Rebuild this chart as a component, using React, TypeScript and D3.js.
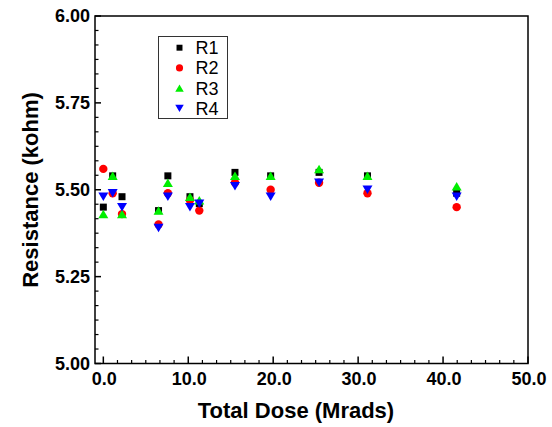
import React from "react";
import * as d3 from "d3";

const doses = [0, 1.1, 2.2, 6.5, 7.6, 10.2, 11.3, 15.5, 19.7, 25.4, 31.1, 41.6];
const r1 = [5.45, 5.54, 5.48, 5.44, 5.54, 5.48, 5.46, 5.55, 5.54, 5.55, 5.54, 5.49];
const r2 = [5.56, 5.49, 5.43, 5.40, 5.49, 5.47, 5.44, 5.52, 5.50, 5.52, 5.49, 5.45];
const r3 = [5.43, 5.54, 5.43, 5.44, 5.52, 5.48, 5.47, 5.54, 5.54, 5.56, 5.54, 5.51];
const r4 = [5.48, 5.49, 5.45, 5.39, 5.48, 5.45, 5.46, 5.51, 5.48, 5.52, 5.50, 5.48];
const seriesNames = ["R1", "R2", "R3", "R4"];
const xTickLabels = ["0.0", "10.0", "20.0", "30.0", "40.0", "50.0"];
const yTickLabels = ["5.00", "5.25", "5.50", "5.75", "6.00"];

const W = 552, H = 427;
const L = 95, R = 528, T = 16, B = 363.5;
const FONT = "'Liberation Sans', Arial, Helvetica, sans-serif";

const series = [
  { name: seriesNames[0], values: r1, color: "#000000", shape: "square" },
  { name: seriesNames[1], values: r2, color: "#ff0000", shape: "circle" },
  { name: seriesNames[2], values: r3, color: "#00ee00", shape: "up" },
  { name: seriesNames[3], values: r4, color: "#0000ff", shape: "down" },
];

function Marker({ shape, x, y, color, s = 1 }: any) {
  if (shape === "square") {
    const a = 7 * s;
    return <rect x={x - a / 2} y={y - a / 2} width={a} height={a} fill={color} />;
  }
  if (shape === "circle") return <circle cx={x} cy={y} r={4.2 * s} fill={color} />;
  const w = 5 * s, h = 8.5 * s;
  if (shape === "up") {
    const p = `M${x - w},${y + h / 2}L${x + w},${y + h / 2}L${x},${y - h / 2}Z`;
    return <path d={p} fill={color} />;
  }
  const p = `M${x - w},${y - h / 2}L${x + w},${y - h / 2}L${x},${y + h / 2}Z`;
  return <path d={p} fill={color} />;
}

export default function App() {
  const x = d3.scaleLinear().domain([-0.98, 50]).range([L, R]);
  const y = d3.scaleLinear().domain([5, 6]).range([B, T]);

  const xMajor = d3.range(0, 51, 10);
  const xMinor = d3.range(0, 50.001, 10 / 6).filter((v) => Math.abs(v / 10 - Math.round(v / 10)) > 1e-6);
  const yMajor = d3.range(5, 6.001, 0.25);
  const yMinor = d3.range(5, 6.0001, 0.25 / 6).filter((v) => Math.abs(v / 0.25 - Math.round(v / 0.25)) > 1e-6);

  return (
    <svg width={W} height={H} style={{ position: "absolute", left: 0, top: 0, background: "#fff" }}>
      <rect x={0} y={0} width={W} height={H} fill="#fff" />
      {/* data */}
      {series.map((s) => (
        <g key={s.name}>
          {s.values.map((v, i) => (
            <Marker key={i} shape={s.shape} x={x(doses[i])} y={y(v)} color={s.color} />
          ))}
        </g>
      ))}
      {/* frame */}
      <rect x={L} y={T} width={R - L} height={B - T} fill="none" stroke="#000" strokeWidth={1.5} />
      {/* y ticks */}
      {yMajor.map((v) => (
        <line key={"ym" + v} x1={L} x2={L + 6} y1={y(v)} y2={y(v)} stroke="#000" strokeWidth={1.5} />
      ))}
      {yMinor.map((v, i) => (
        <line key={"yn" + i} x1={L} x2={L + 3.5} y1={y(v)} y2={y(v)} stroke="#000" strokeWidth={1.2} />
      ))}
      {xMajor.map((v) => (
        <line key={"xm" + v} x1={x(v)} x2={x(v)} y1={B} y2={B - 7} stroke="#000" strokeWidth={1.5} />
      ))}
      {xMinor.map((v, i) => (
        <line key={"xn" + i} x1={x(v)} x2={x(v)} y1={B} y2={B - 3.5} stroke="#000" strokeWidth={1.2} />
      ))}
      {/* tick labels */}
      {yMajor.map((v, i) => (
        <text key={"yl" + i} x={90} y={y(v)} dy="0.35em" textAnchor="end" fontFamily={FONT} fontWeight="bold" fontSize={18} fill="#000">
          {yTickLabels[i]}
        </text>
      ))}
      {xMajor.map((v, i) => (
        <text key={"xl" + i} x={x(v) + 1} y={385} textAnchor="middle" fontFamily={FONT} fontWeight="bold" fontSize={18} fill="#000">
          {xTickLabels[i]}
        </text>
      ))}
      {/* titles */}
      <text x={296} y={418} textAnchor="middle" fontFamily={FONT} fontWeight="bold" fontSize={22} fill="#000">
        Total Dose (Mrads)
      </text>
      <text transform="translate(38,190) rotate(-90)" textAnchor="middle" fontFamily={FONT} fontWeight="bold" fontSize={22} fill="#000">
        Resistance (kohm)
      </text>
      {/* legend */}
      <rect x={158.5} y={36.5} width={69} height={82} fill="#fff" stroke="#333" strokeWidth={1} />
      {series.map((s, i) => (
        <g key={"lg" + i}>
          <Marker shape={s.shape} x={179.5} y={47.7 + i * 20.2} color={s.color} s={0.85} />
          <text x={195.5} y={47.7 + i * 20.2} dy="0.36em" fontFamily={FONT} fontSize={18} fill="#000">
            {s.name}
          </text>
        </g>
      ))}
    </svg>
  );
}
